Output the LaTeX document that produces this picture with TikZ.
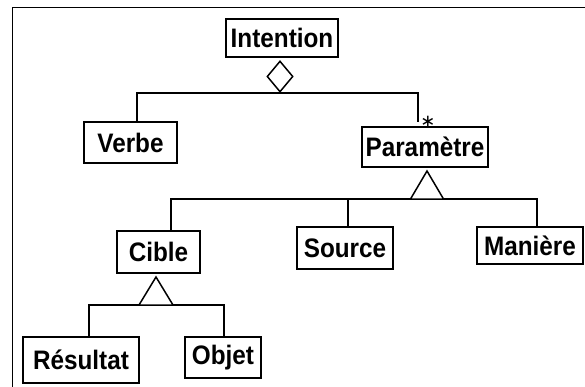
\documentclass[tikz,border=0pt]{standalone}
\usepackage{fontspec}
\setmainfont{Liberation Sans}
\newfontfamily\symfont{DejaVu Sans}
\usetikzlibrary{shapes.geometric}
\begin{document}
\begin{tikzpicture}[x=1pt,y=-1pt,
  line width=1.7pt,
  umlbox/.style={draw, line width=1.7pt, inner sep=0pt, font=\fontsize{24.3}{28}\selectfont\bfseries},
  agg/.style={draw, diamond, inner sep=0pt, line width=1.5pt},
  tri/.style={draw, line width=1.5pt, fill=white},
  link/.style={draw, line width=1.7pt}]
\useasboundingbox (0,0) rectangle (585,387);
\draw[line width=1.8pt] (12.5,387) -- (12.5,7.5) -- (585,7.5);

\node[umlbox, minimum width=112pt, minimum height=38pt] (intention) at (282,38) {\raisebox{-0.5pt}{\scalebox{1}[1.1]{Intention}}};
\node[umlbox, minimum width=93pt, minimum height=41pt] (verbe) at (130.5,142.5) {\scalebox{1}[1.1]{Verbe}};
\node[umlbox, minimum width=126pt, minimum height=40pt] (param) at (425,147) {\scalebox{1}[1.1]{Paramètre}};
\node[umlbox, minimum width=83pt, minimum height=42pt] (cible) at (158.5,252) {\scalebox{1}[1.1]{Cible}};
\node[umlbox, minimum width=96pt, minimum height=42pt] (source) at (345,248) {\scalebox{1}[1.1]{Source}};
\node[umlbox, minimum width=106pt, minimum height=37pt] (maniere) at (530,245.5) {\scalebox{1}[1.1]{Manière}};
\node[umlbox, minimum width=116pt, minimum height=46pt] (resultat) at (81,360) {\scalebox{1}[1.1]{Résultat}};
\node[umlbox, minimum width=76pt, minimum height=41pt] (objet) at (223,357.5) {\scalebox{1}[1.1]{Objet}};

% aggregation diamond
\node[agg, minimum width=26pt, minimum height=31pt] (dia) at (280,76.5) {};
\coordinate (pend) at (418,122);
\draw[link] ([xshift=6.5pt]verbe.north) |- (dia.south) -| (pend);
\node[inner sep=0pt, anchor=base, font=\fontsize{18}{20}\selectfont\symfont] (star) at (428,127.5) {∗};

% generalisation Paramètre
\coordinate (t1) at (427,171);
\coordinate (b1) at (427,199);
\draw[link] ([xshift=12.5pt]cible.north) |- (b1) -| ([xshift=7pt]maniere.north);
\draw[link] ([xshift=3pt]source.north) -- ([xshift=3pt]source.north |- b1);
\draw[tri] (t1) -- ++(-16.5,28) -- ++(33,0) -- cycle;

% generalisation Cible
\coordinate (t2) at (156,277);
\coordinate (b2) at (156,305);
\draw[link] ([xshift=8pt]resultat.north) |- (b2) -| ([xshift=1pt]objet.north);
\draw[tri] (t2) -- ++(-17,28) -- ++(34,0) -- cycle;
\end{tikzpicture}
\end{document}
